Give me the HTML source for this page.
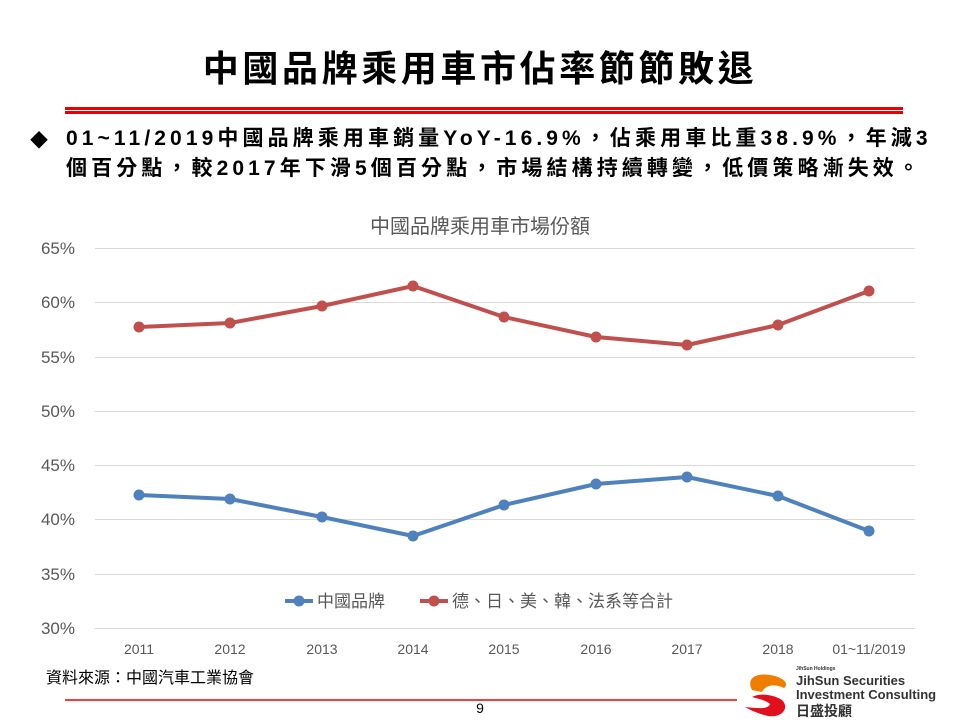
<!DOCTYPE html>
<html><head><meta charset="utf-8"><style>
body{margin:0;width:960px;height:720px;background:#fff;position:relative;overflow:hidden;font-family:"Liberation Sans","Noto Sans CJK TC",sans-serif;}
.t{position:absolute;white-space:nowrap;}
</style></head><body>
<div class="t" style="left:0;width:960px;text-align:center;top:40px;font-size:36px;font-weight:bold;color:#000;letter-spacing:3.6px;">中國品牌乘用車市佔率節節敗退</div>
<div style="position:absolute;left:65px;top:107px;width:838px;height:3px;background:#e00;"></div>
<div style="position:absolute;left:65px;top:111px;width:838px;height:3px;background:#e00;"></div>
<div class="t" style="left:30px;top:127px;font-size:18px;">◆</div>
<div class="t" style="left:66px;top:124px;font-size:21px;font-weight:bold;line-height:30px;letter-spacing:4.1px;">01~11/2019中國品牌乘用車銷量YoY-16.9%，佔乘用車比重38.9%，年減3<br>個百分點，較2017年下滑5個百分點，市場結構持續轉變，低價策略漸失效。</div>
<svg style="position:absolute;left:0;top:0" width="960" height="720">
<text x="480" y="233" text-anchor="middle" font-size="20" fill="#595959" font-family="Liberation Sans,Noto Sans CJK TC,sans-serif">中國品牌乘用車市場份額</text>
<g stroke="#d9d9d9" stroke-width="1">
<line x1="95" x2="915" y1="248.5" y2="248.5"/><line x1="95" x2="915" y1="302.5" y2="302.5"/><line x1="95" x2="915" y1="357.5" y2="357.5"/><line x1="95" x2="915" y1="411.5" y2="411.5"/><line x1="95" x2="915" y1="465.5" y2="465.5"/><line x1="95" x2="915" y1="519.5" y2="519.5"/><line x1="95" x2="915" y1="574.5" y2="574.5"/><line x1="95" x2="915" y1="628.5" y2="628.5"/>
</g>
<g font-size="17" fill="#595959" text-anchor="end" font-family="Liberation Sans,sans-serif">
<text x="75" y="254">65%</text><text x="75" y="308">60%</text><text x="75" y="363">55%</text><text x="75" y="417">50%</text><text x="75" y="471">45%</text><text x="75" y="525">40%</text><text x="75" y="580">35%</text><text x="75" y="634">30%</text>
</g>
<g font-size="14" fill="#595959" text-anchor="middle" font-family="Liberation Sans,sans-serif">
<text x="139" y="654">2011</text><text x="230" y="654">2012</text><text x="322" y="654">2013</text><text x="413" y="654">2014</text><text x="504" y="654">2015</text><text x="596" y="654">2016</text><text x="687" y="654">2017</text><text x="778" y="654">2018</text><text x="869" y="654">01~11/2019</text>
</g>
<polyline fill="none" stroke="#c0504d" stroke-width="4" stroke-linejoin="round" points="139,327 230,323 322,306 413,286 504,317 596,337 687,345 778,325 869,291"/>
<polyline fill="none" stroke="#4f81bd" stroke-width="4" stroke-linejoin="round" points="139,495 230,499 322,517 413,536 504,505 596,484 687,477 778,496 869,531"/>
<g fill="#c0504d"><circle cx="139" cy="327" r="5.5"/><circle cx="230" cy="323" r="5.5"/><circle cx="322" cy="306" r="5.5"/><circle cx="413" cy="286" r="5.5"/><circle cx="504" cy="317" r="5.5"/><circle cx="596" cy="337" r="5.5"/><circle cx="687" cy="345" r="5.5"/><circle cx="778" cy="325" r="5.5"/><circle cx="869" cy="291" r="5.5"/></g>
<g fill="#4f81bd"><circle cx="139" cy="495" r="5.5"/><circle cx="230" cy="499" r="5.5"/><circle cx="322" cy="517" r="5.5"/><circle cx="413" cy="536" r="5.5"/><circle cx="504" cy="505" r="5.5"/><circle cx="596" cy="484" r="5.5"/><circle cx="687" cy="477" r="5.5"/><circle cx="778" cy="496" r="5.5"/><circle cx="869" cy="531" r="5.5"/></g>
<line x1="285" x2="313" y1="601" y2="601" stroke="#4f81bd" stroke-width="4"/><circle cx="299" cy="601" r="5.5" fill="#4f81bd"/>
<text x="317" y="607" font-size="17" fill="#595959" font-family="Liberation Sans,Noto Sans CJK TC,sans-serif">中國品牌</text>
<line x1="420" x2="448" y1="601" y2="601" stroke="#c0504d" stroke-width="4"/><circle cx="434" cy="601" r="5.5" fill="#c0504d"/>
<text x="452" y="607" font-size="17" fill="#595959" font-family="Liberation Sans,Noto Sans CJK TC,sans-serif">德、日、美、韓、法系等合計</text>
<line x1="65" x2="737" y1="700" y2="700" stroke="#e00" stroke-width="1.5"/>
<text x="480" y="713" font-size="14" text-anchor="middle" fill="#000">9</text>
<text x="46" y="683" font-size="16" fill="#000" font-family="Liberation Sans,Noto Sans CJK TC,sans-serif">資料來源：中國汽車工業協會</text>
<path d="M752,690 C745,676 760,672 775,676 C782,678 790,683 784,688 C776,684 766,684 762,692 Z" fill="#ee7d00"/>
<path d="M752,697 C762,692 776,696 782,700 C790,708 782,718 768,716 C760,714 754,712 745,707 C756,708 768,710 770,704 C766,700 758,699 752,697 Z" fill="#e0101e"/>
<text x="796" y="670" font-size="5" fill="#333" font-weight="bold">JihSun Holdings</text>
<text x="796" y="685" font-size="13" fill="#333" font-weight="bold">JihSun Securities</text>
<text x="796" y="699" font-size="13" fill="#333" font-weight="bold">Investment Consulting</text>
<text x="796" y="716" font-size="14" fill="#333" font-weight="bold" font-family="Noto Sans CJK TC,sans-serif">日盛投顧</text>
</svg>
</body></html>
